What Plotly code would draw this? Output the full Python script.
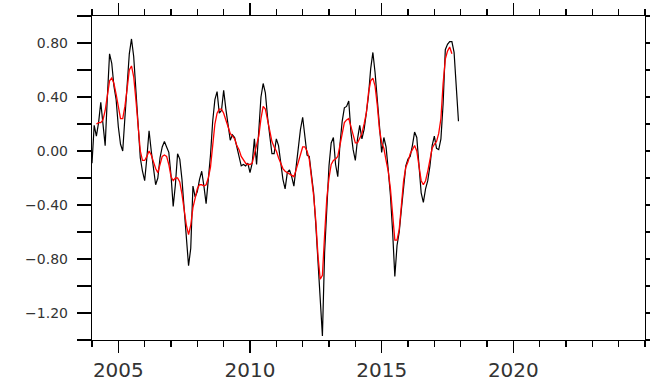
import numpy as np
import plotly.graph_objects as go

# Monthly anomaly series (black) starting Jan 2004
start_year = 2004
black = [
    -0.09, 0.19, 0.11, 0.21, 0.36, 0.19, 0.04, 0.40, 0.72, 0.65, 0.48, 0.38,
    0.18, 0.05, 0.00, 0.25, 0.48, 0.72, 0.83, 0.70, 0.45, 0.22, -0.05, -0.15,
    -0.22, -0.05, 0.15, 0.00, -0.14, -0.25, -0.20, -0.05, 0.03, 0.07, 0.03, -0.01,
    -0.18, -0.41, -0.25, -0.02, -0.06, -0.21, -0.43, -0.63, -0.85, -0.72, -0.26, -0.34,
    -0.30, -0.21, -0.15, -0.26, -0.39, -0.21, -0.03, 0.22, 0.38, 0.44, 0.28, 0.30,
    0.45, 0.31, 0.19, 0.08, 0.12, 0.10, 0.03, -0.04, -0.11, -0.10, -0.11, -0.09,
    -0.16, -0.09, 0.09, -0.10, 0.20, 0.40, 0.50, 0.43, 0.25, 0.12, -0.02, -0.02,
    0.09, 0.04, -0.10, -0.21, -0.28, -0.16, -0.14, -0.19, -0.26, -0.11, 0.04, 0.16,
    0.25, 0.11, -0.03, -0.04, -0.19, -0.31, -0.55, -0.85, -1.15, -1.37, -0.75, -0.41,
    -0.11, 0.06, 0.10, -0.10, -0.19, 0.05, 0.22, 0.32, 0.33, 0.37, 0.14, 0.01,
    -0.07, 0.09, 0.19, 0.09, 0.16, 0.28, 0.41, 0.61, 0.73, 0.58, 0.36, 0.16,
    -0.01, 0.10, 0.03, -0.14, -0.33, -0.60, -0.93, -0.70, -0.60, -0.43, -0.25, -0.11,
    -0.06, -0.04, 0.04, 0.14, 0.10, -0.12, -0.31, -0.38, -0.28, -0.22, -0.11, 0.04,
    0.11, 0.02, 0.01, 0.09, 0.35, 0.75, 0.79, 0.81, 0.81, 0.73, 0.45, 0.22,
]

# Smoothed series (red), same monthly grid
red = [
    None, None, 0.20, 0.21, 0.21, 0.23, 0.30, 0.42, 0.52, 0.54, 0.50, 0.42,
    0.33, 0.24, 0.24, 0.33, 0.46, 0.60, 0.63, 0.55, 0.38, 0.18, 0.00, -0.07,
    -0.07, -0.04, 0.00, -0.03, -0.08, -0.13, -0.16, -0.10, -0.04, -0.03, -0.04, -0.10,
    -0.19, -0.22, -0.20, -0.20, -0.23, -0.32, -0.45, -0.55, -0.62, -0.55, -0.42, -0.34,
    -0.28, -0.25, -0.25, -0.26, -0.25, -0.20, -0.12, 0.04, 0.20, 0.28, 0.31, 0.31,
    0.28, 0.23, 0.18, 0.13, 0.11, 0.09, 0.04, 0.01, -0.04, -0.07, -0.09, -0.10,
    -0.10, -0.09, -0.03, 0.04, 0.11, 0.24, 0.33, 0.31, 0.22, 0.13, 0.07, 0.03,
    0.00, -0.05, -0.09, -0.13, -0.15, -0.16, -0.17, -0.18, -0.19, -0.14, -0.08, -0.03,
    0.03, 0.03, 0.00, -0.06, -0.18, -0.33, -0.52, -0.78, -0.95, -0.92, -0.62, -0.35,
    -0.20, -0.10, -0.07, -0.06, -0.04, 0.05, 0.13, 0.21, 0.23, 0.24, 0.18, 0.11,
    0.06, 0.06, 0.09, 0.13, 0.20, 0.28, 0.43, 0.52, 0.54, 0.48, 0.34, 0.16,
    0.06, 0.02, -0.07, -0.15, -0.28, -0.50, -0.66, -0.66, -0.58, -0.40, -0.22, -0.12,
    -0.08, -0.02, 0.01, 0.04, 0.00, -0.12, -0.22, -0.25, -0.22, -0.15, -0.07, 0.02,
    0.05, 0.07, 0.13, 0.24, 0.50, 0.68, 0.74, 0.77, 0.72, None, None, None,
]

x_ticks = [2005, 2010, 2015, 2020]
x_ticktext = ["2005", "2010", "2015", "2020"]
y_ticks = [-1.2, -0.8, -0.4, 0.0, 0.4, 0.8]
y_ticktext = ["\u22121.20", "\u22120.80", "\u22120.40", "0.00", "0.40", "0.80"]

t = start_year + np.arange(len(black)) / 12.0

fig = go.Figure()
fig.add_trace(go.Scatter(x=t, y=black, mode="lines",
                         line=dict(color="black", width=1.2), hoverinfo="skip"))
fig.add_trace(go.Scatter(x=t, y=red, mode="lines",
                         line=dict(color="#ff0000", width=1.3), hoverinfo="skip"))

label_col = "#333333"
fig.update_layout(
    width=650, height=383,
    margin=dict(l=92, r=5, t=16, b=43),
    paper_bgcolor="white", plot_bgcolor="white",
    showlegend=False,
    font=dict(family="DejaVu Sans", color=label_col),
)
fig.update_xaxes(
    range=[2004, 2025], tickvals=x_ticks, ticktext=x_ticktext,
    automargin=False,
    showgrid=False, zeroline=False,
    showline=True, linecolor="black", linewidth=1.2, mirror="allticks",
    ticks="outside", ticklen=12, tickwidth=1.4, tickcolor="black",
    tickfont=dict(size=20, color=label_col, family="DejaVu Sans"),
    ticklabelstandoff=0,
    minor=dict(dtick=1, tick0=2004, ticks="outside", ticklen=6, tickwidth=1.4, tickcolor="black", showgrid=False),
)
fig.update_yaxes(
    range=[-1.4, 1.0], tickvals=y_ticks, ticktext=y_ticktext,
    automargin=False,
    showgrid=False, zeroline=False,
    showline=True, linecolor="black", linewidth=1.2, mirror="allticks",
    ticks="outside", ticklen=14, tickwidth=1.4, tickcolor="black",
    tickfont=dict(size=14, color=label_col, family="DejaVu Sans"),
    ticklabelstandoff=6,
    minor=dict(dtick=0.2, tick0=0, ticks="outside", ticklen=14, tickwidth=1.4, tickcolor="black", showgrid=False),
)

fig.write_html(
    "out.html",
    config={"displayModeBar": False, "staticPlot": True},
    post_script="document.body.style.margin='0';document.body.style.overflow='hidden';",
)
